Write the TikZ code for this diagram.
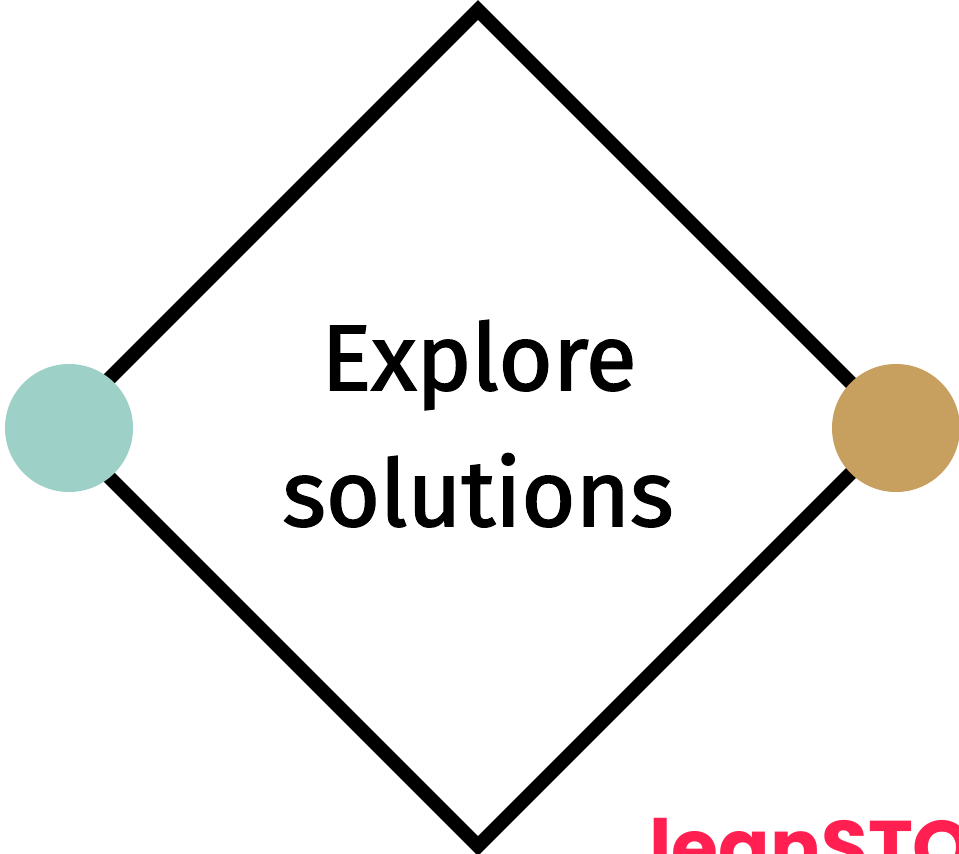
\documentclass[tikz,border=0pt]{standalone}
\usepackage{fontspec}
\newfontfamily\labelfont{Fira Sans}[FakeBold=1.8]
\newfontfamily\logofont{Poppins}
\definecolor{tealdot}{HTML}{9DD1C8}
\definecolor{golddot}{HTML}{C79F5E}
\definecolor{logopink}{HTML}{FF1F50}
\tikzset{
  frame/.style={draw=black,line width=14pt,miter limit=10,line join=miter},
  dot/.style={circle,minimum size=128pt,inner sep=0pt,draw=none},
  caption/.style={inner sep=0pt,font=\labelfont\fontsize{93}{93}\selectfont,text=black},
  logo/.style={inner sep=0pt,font=\logofont\bfseries\fontsize{76}{76}\selectfont,text=logopink}
}
\begin{document}
\begin{tikzpicture}[x=1pt,y=-1pt]
\useasboundingbox (0,0) rectangle (959,854);
\clip (0,0) rectangle (959,854);
\fill[white] (0,0) rectangle (959,854);
\draw[frame] (478,10) -- (896,428) -- (478,846) -- (60,428) -- cycle;
\node[dot,fill=tealdot] (left) at (69,428) {};
\node[dot,fill=golddot] (right) at (896,428) {};
\node[caption,anchor=base] (t1) at (479,390) {Explore};
\node[caption,anchor=base] (t2) at (478,526) {solutions};
\node[logo,anchor=base west] (brand) at (649,874) {leanSTO};
\end{tikzpicture}
\end{document}
